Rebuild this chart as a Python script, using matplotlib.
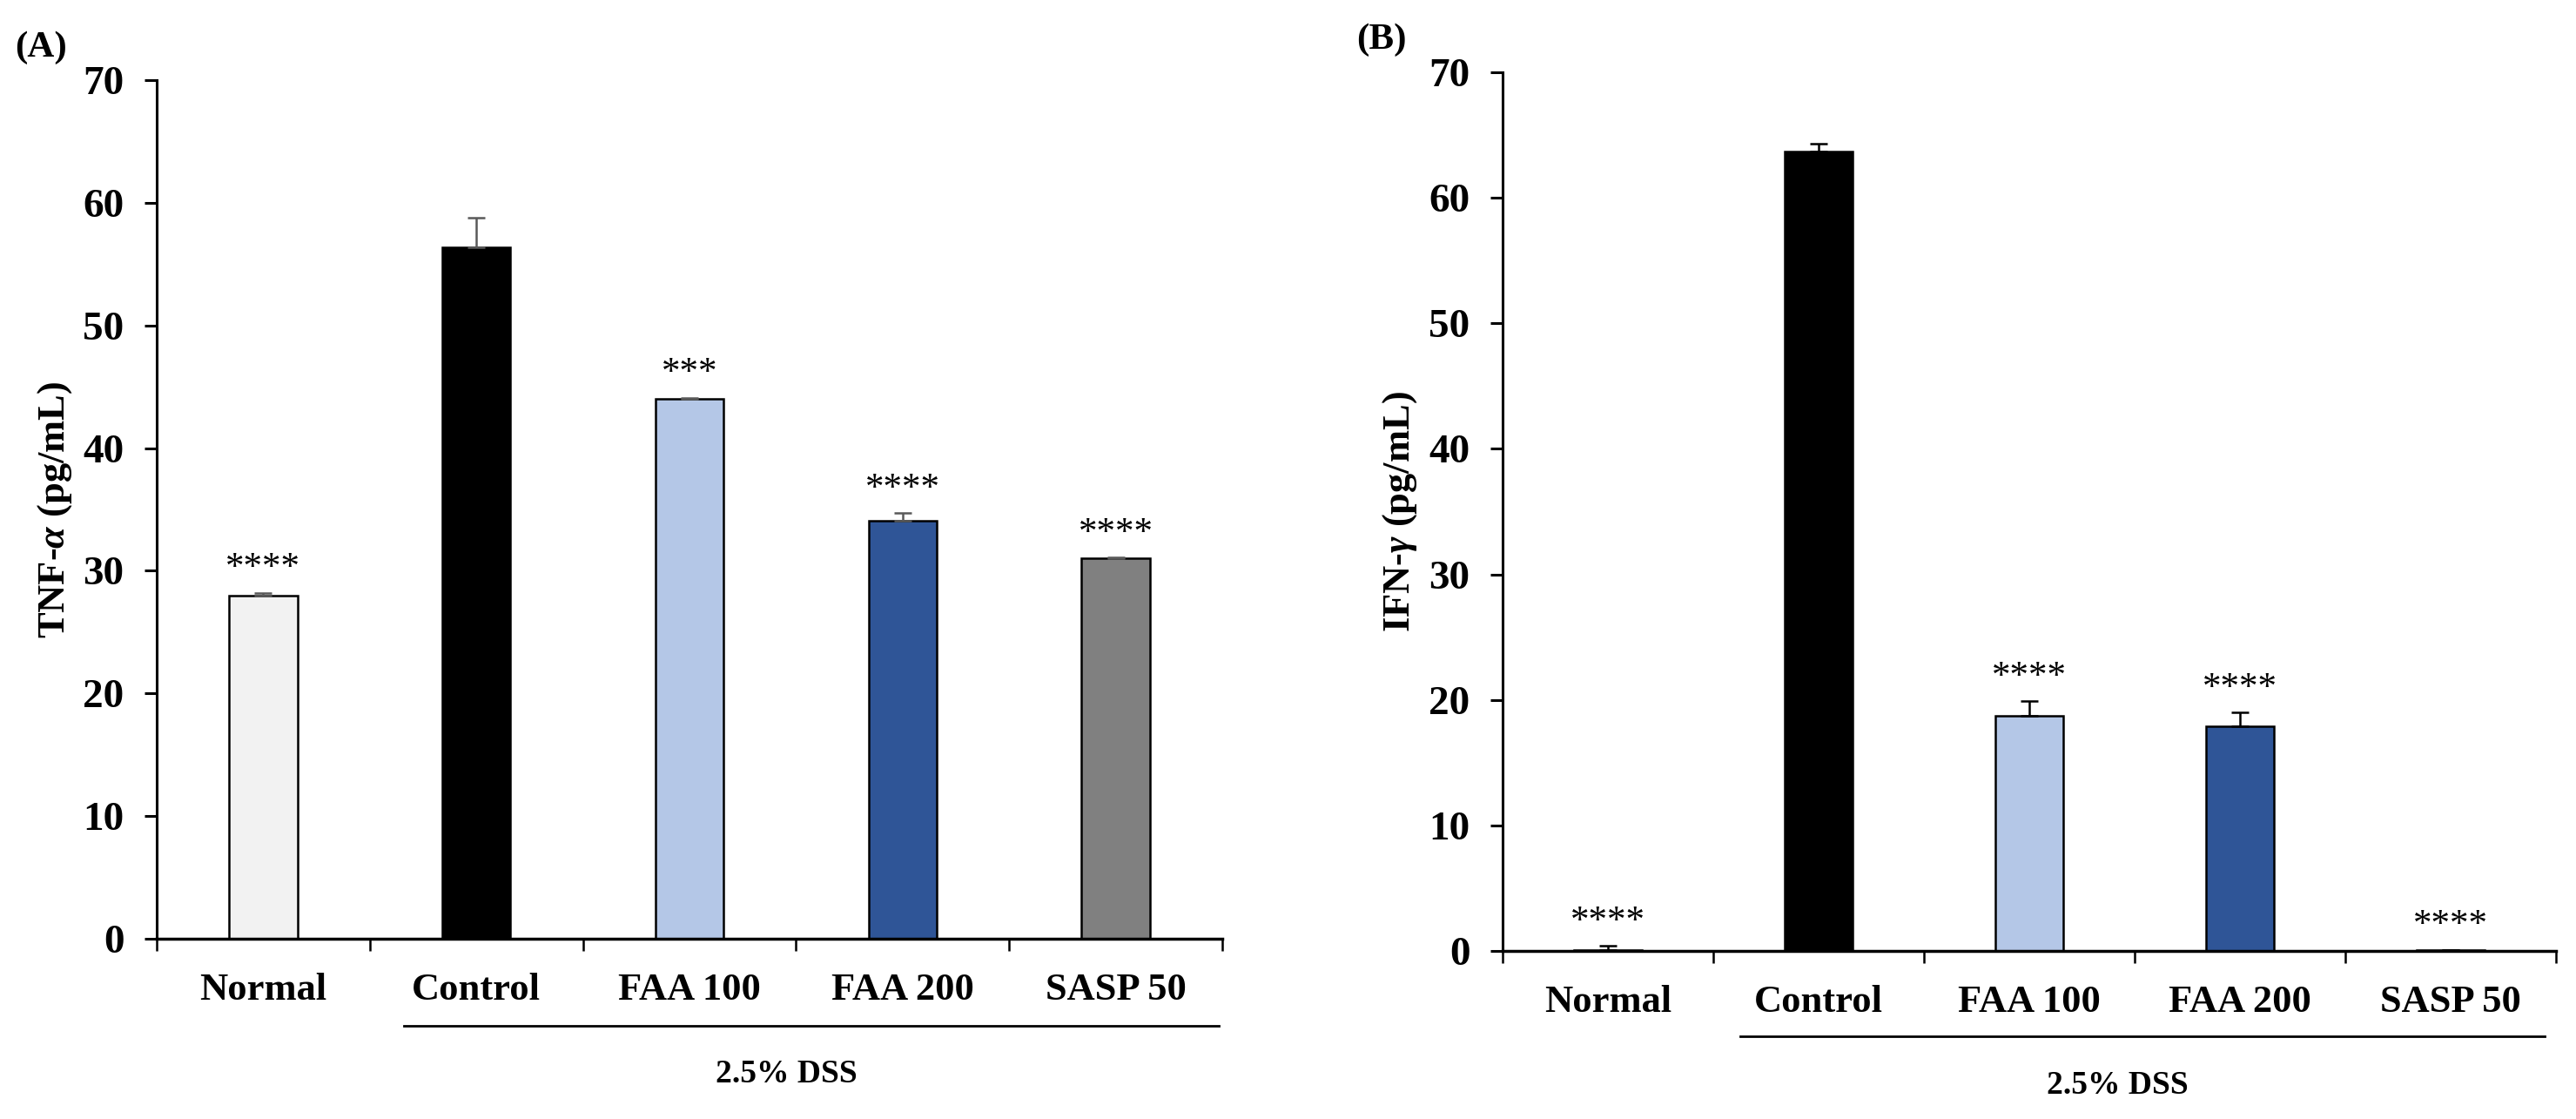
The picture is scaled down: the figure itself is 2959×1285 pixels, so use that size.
import matplotlib
matplotlib.use("Agg")
import matplotlib.pyplot as plt
import numpy as np

plt.rcParams['font.family'] = ['Liberation Serif', 'DejaVu Serif']
plt.rcParams['mathtext.fontset'] = 'custom'
plt.rcParams['mathtext.rm'] = 'Liberation Serif:bold'
plt.rcParams['mathtext.it'] = 'Liberation Serif:italic:bold'
plt.rcParams['mathtext.bf'] = 'Liberation Serif:bold'

categories = ["Normal", "Control", "FAA 100", "FAA 200", "SASP 50"]
colors = ["#F2F2F2", "#000000", "#B4C7E7", "#2F5597", "#808080"]

tnf_values = [28.0, 56.4, 44.0, 34.1, 31.0]
tnf_errors = [0.2, 2.4, 0.1, 0.6, 0.1]
tnf_stars = ["****", "", "***", "****", "****"]

ifn_values = [0.1, 63.7, 18.7, 17.9, 0.05]
ifn_errors = [0.3, 0.6, 1.2, 1.1, 0.05]
ifn_stars = ["****", "", "****", "****", "****"]

yticks = [0, 10, 20, 30, 40, 50, 60, 70]
group_label = "2.5% DSS"

W, H = 2959, 1285
fig = plt.figure(figsize=(W / 100, H / 100), dpi=100)

def make_panel(rect, values, errors, stars, ylabel, panel_label, plabel_xy,
               errcolor, line_ax, dss_ax, ylabel_x):
    ax = fig.add_axes(rect)
    x = np.arange(len(categories)) + 0.5
    for i in range(len(categories)):
        ec = colors[i] if colors[i] == "#000000" else "black"
        ax.bar(x[i], values[i], width=0.32, color=colors[i], edgecolor=ec,
               linewidth=1.8, zorder=2)
        ax.errorbar(x[i], values[i], yerr=[[0], [errors[i]]], fmt='none',
                    ecolor=errcolor, elinewidth=1.8, capsize=7, capthick=1.8,
                    zorder=3)
        if stars[i]:
            ax.annotate(stars[i], (x[i], values[i] + errors[i]),
                        xytext=(0, 6), textcoords='offset points',
                        ha='center', va='bottom', fontsize=31)
    ax.set_xlim(0, len(categories))
    ax.set_ylim(0, 70)
    ax.set_yticks(yticks)
    ax.set_yticklabels([str(t) for t in yticks], fontsize=34, fontweight='bold')
    ax.set_xticks(x)
    ax.set_xticklabels(categories, fontsize=32, fontweight='bold')
    ax.set_xticks(np.arange(len(categories) + 1), minor=True)
    ax.tick_params(axis='x', which='major', length=0, pad=28)
    ax.tick_params(axis='x', which='minor', length=10, width=1.8, direction='out')
    ax.tick_params(axis='y', which='major', length=10, width=2.2,
                   direction='out', pad=17)
    for s in ['top', 'right']:
        ax.spines[s].set_visible(False)
    ax.spines['left'].set_linewidth(2.2)
    ax.spines['bottom'].set_linewidth(2.5)
    ax.spines['bottom'].set_zorder(4)
    ax.set_ylabel(ylabel, fontsize=32, fontweight='bold')
    ax.yaxis.set_label_coords(ylabel_x, 0.5)
    ax.plot([line_ax[0], line_ax[1]], [line_ax[2], line_ax[2]],
            transform=ax.transAxes, color='black', lw=2.0, clip_on=False)
    ax.text(dss_ax[0], dss_ax[1], group_label, transform=ax.transAxes,
            ha='center', va='center', fontsize=27, fontweight='bold')
    fig.text(plabel_xy[0] / W, 1 - plabel_xy[1] / H, panel_label,
             ha='center', va='center', fontsize=31, fontweight='bold')
    return ax

axA = make_panel([180 / W, 1 - 1078 / H, (1404 - 180) / W, (1078 - 92) / H],
                 tnf_values, tnf_errors, tnf_stars,
                 r"TNF-$\alpha$ (pg/mL)", "(A)", (47, 55), "#595959",
                 (0.232, 0.997, -0.1014), (0.591, -0.158), -0.078)
axB = make_panel([1726 / W, 1 - 1092 / H, (2936 - 1726) / W, (1092 - 83) / H],
                 ifn_values, ifn_errors, ifn_stars,
                 r"IFN-$\gamma$ (pg/mL)", "(B)", (1587, 46), "black",
                 (0.226, 0.989, -0.097), (0.584, -0.153), -0.079)

fig.savefig("out.png", dpi=100, facecolor='white')
